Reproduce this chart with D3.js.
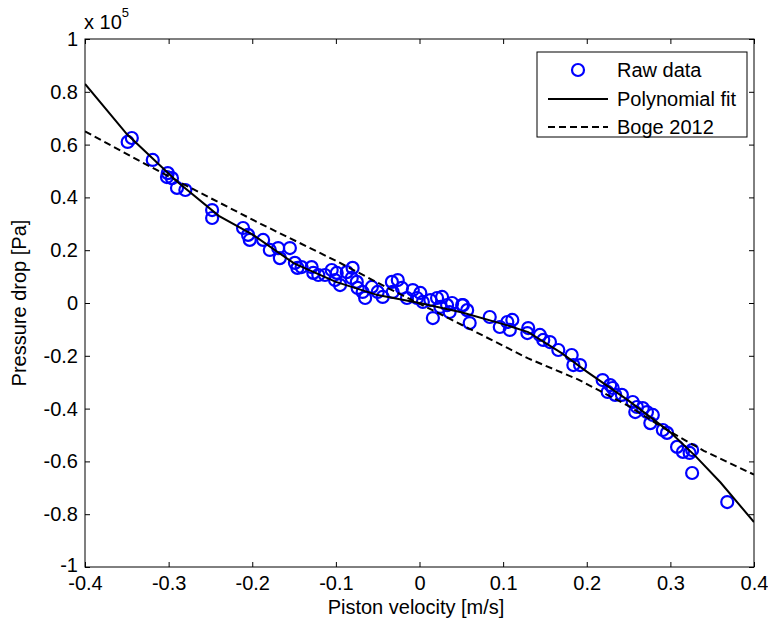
<!DOCTYPE html>
<html>
<head>
<meta charset="utf-8">
<script src="https://cdn.jsdelivr.net/npm/d3@7"></script>
<style>
  html, body { margin: 0; padding: 0; background: #fff; }
  svg { display: block; font-family: "Liberation Sans", Arial, sans-serif; }
</style>
</head>
<body>
<svg id="chart" width="768" height="625"></svg>
<script>
// ---- data (pressure in units of 1e5 Pa) ----
const rawVelocity = [-0.349,-0.344,-0.319,-0.302,-0.301,-0.296,-0.290,-0.280,-0.248,-0.248,
  -0.211,-0.205,-0.203,-0.187,-0.179,-0.169,-0.167,-0.155,-0.149,-0.146,
  -0.141,-0.129,-0.127,-0.121,-0.113,-0.105,-0.099,-0.101,-0.095,-0.087,
  -0.080,-0.081,-0.075,-0.074,-0.068,-0.065,-0.057,-0.050,-0.044,-0.033,
  -0.026,-0.032,-0.021,-0.015,-0.008,0.001,-0.003,0.004,0.013,0.021,
  0.016,0.025,0.033,0.036,0.052,0.057,0.060,0.027,0.039,0.051,
  0.084,0.096,0.105,0.111,0.108,0.130,0.129,0.144,0.148,0.156,
  0.166,0.182,0.184,0.192,0.219,0.228,0.231,0.225,0.234,0.242,
  0.255,0.260,0.258,0.267,0.272,0.279,0.276,0.291,0.296,0.308,
  0.315,0.323,0.326,0.326,0.368];
const rawPressure = [0.610,0.625,0.542,0.477,0.492,0.473,0.436,0.428,0.352,0.322,
  0.284,0.258,0.239,0.239,0.201,0.208,0.170,0.208,0.152,0.133,
  0.136,0.136,0.114,0.106,0.106,0.125,0.114,0.087,0.068,0.117,
  0.133,0.095,0.080,0.057,0.042,0.019,0.061,0.042,0.023,0.080,
  0.087,0.042,0.057,0.019,0.049,0.038,0.019,0.004,0.011,0.019,
  -0.057,-0.015,-0.008,-0.034,-0.008,-0.027,-0.076,0.023,0.000,-0.008,
  -0.053,-0.091,-0.072,-0.064,-0.102,-0.095,-0.114,-0.121,-0.140,-0.148,
  -0.178,-0.197,-0.235,-0.235,-0.292,-0.311,-0.322,-0.337,-0.348,-0.348,
  -0.375,-0.394,-0.413,-0.398,-0.413,-0.424,-0.455,-0.481,-0.492,-0.545,
  -0.564,-0.568,-0.557,-0.644,-0.754];

const fitVelocity = [-0.40,-0.35,-0.32,-0.29,-0.24,-0.20,-0.15,-0.10,-0.05,0.00,
  0.05,0.10,0.13,0.17,0.20,0.25,0.30,0.33,0.36,0.40];
const fitPressure = [0.83,0.64,0.55,0.46,0.33,0.26,0.15,0.08,0.03,0.00,
  -0.035,-0.08,-0.11,-0.19,-0.26,-0.37,-0.49,-0.58,-0.68,-0.83];

const bogeVelocity = [-0.40,-0.33,-0.27,-0.19,-0.10,-0.04,0.03,0.13,0.19,0.25,0.29,0.34,0.40];
const bogePressure = [0.65,0.53,0.43,0.30,0.16,0.06,-0.05,-0.21,-0.29,-0.39,-0.47,-0.56,-0.65];

const xTicks = [-0.4,-0.3,-0.2,-0.1,0,0.1,0.2,0.3,0.4];
const yTicks = [-1,-0.8,-0.6,-0.4,-0.2,0,0.2,0.4,0.6,0.8,1];
const seriesNames = ["Raw data","Polynomial fit","Boge 2012"];

// ---- layout ----
const L = 85, R = 754, T = 39, B = 567;
const FS = 20;
const svg = d3.select("#chart");
const x = d3.scaleLinear().domain([-0.4, 0.4]).range([L, R]);
const y = d3.scaleLinear().domain([-1, 1]).range([B, T]);
const fmt = d => (d === 0 ? "0" : String(d));

// axes with inward ticks on all sides
const tickLen = 5;
svg.append("g").attr("transform", `translate(0,${B})`)
  .call(d3.axisBottom(x).tickValues(xTicks).tickFormat(fmt).tickSizeInner(-tickLen).tickSizeOuter(0).tickPadding(9))
  .call(g => g.select(".domain").remove());
svg.append("g").attr("transform", `translate(0,${T})`)
  .call(d3.axisTop(x).tickValues(xTicks).tickFormat("").tickSizeInner(-tickLen).tickSizeOuter(0))
  .call(g => g.select(".domain").remove());
svg.append("g").attr("transform", `translate(${L},0)`)
  .call(d3.axisLeft(y).tickValues(yTicks).tickFormat(fmt).tickSizeInner(-tickLen).tickSizeOuter(0).tickPadding(7))
  .call(g => g.select(".domain").remove());
svg.append("g").attr("transform", `translate(${R},0)`)
  .call(d3.axisRight(y).tickValues(yTicks).tickFormat("").tickSizeInner(-tickLen).tickSizeOuter(0))
  .call(g => g.select(".domain").remove());
svg.selectAll(".tick line").attr("stroke", "#000").attr("stroke-width", 1);
svg.selectAll(".tick text").attr("font-size", FS).attr("fill", "#000")
  .attr("font-family", "'Liberation Sans', Arial, sans-serif");
// nudge the bottom-most y label up slightly so it clears the x label below it
svg.selectAll("g.tick text").filter(d => d === -1).attr("dy", "0.2em");

// data clip
svg.append("defs").append("clipPath").attr("id", "clip")
  .append("rect").attr("x", L).attr("y", T).attr("width", R - L).attr("height", B - T);
const plot = svg.append("g").attr("clip-path", "url(#clip)");

const line = d3.line().x(d => x(d[0])).y(d => y(d[1]));
const fitData = fitVelocity.map((v, i) => [v, fitPressure[i]]);
const bogeData = bogeVelocity.map((v, i) => [v, bogePressure[i]]);

plot.selectAll("circle.raw").data(rawVelocity.map((v, i) => [v, rawPressure[i]]))
  .enter().append("circle").attr("class", "raw")
  .attr("cx", d => x(d[0])).attr("cy", d => y(d[1])).attr("r", 6)
  .attr("fill", "none").attr("stroke", "#0000ff").attr("stroke-width", 2.2);

plot.append("path").datum(fitData).attr("d", line)
  .attr("fill", "none").attr("stroke", "#000").attr("stroke-width", 2);
plot.append("path").datum(bogeData).attr("d", line)
  .attr("fill", "none").attr("stroke", "#000").attr("stroke-width", 2)
  .attr("stroke-dasharray", "7,4");

// frame
svg.append("rect").attr("x", L).attr("y", T).attr("width", R - L).attr("height", B - T)
  .attr("fill", "none").attr("stroke", "#000").attr("stroke-width", 1);

// exponent label
const ex = svg.append("text").attr("x", L - 1).attr("y", 29).attr("font-size", FS).attr("fill", "#000");
ex.append("tspan").text("x 10");
ex.append("tspan").attr("dy", -12).attr("font-size", 13).text("5");

// axis titles
svg.append("text").attr("x", 416).attr("y", 614).attr("text-anchor", "middle")
  .attr("font-size", FS).attr("fill", "#000").text("Piston velocity [m/s]");
svg.append("text").attr("transform", `translate(26,${(T + B) / 2}) rotate(-90)`)
  .attr("text-anchor", "middle").attr("font-size", FS).attr("fill", "#000").text("Pressure drop [Pa]");

// legend
const lg = svg.append("g");
lg.append("rect").attr("x", 537).attr("y", 52).attr("width", 210).attr("height", 85)
  .attr("fill", "#fff").attr("stroke", "#000").attr("stroke-width", 1);
const rows = [70, 99, 127];
rows.forEach((ry, i) => {
  if (i === 0) {
    lg.append("circle").attr("cx", 578).attr("cy", ry).attr("r", 6)
      .attr("fill", "none").attr("stroke", "#0000ff").attr("stroke-width", 2.2);
  } else {
    lg.append("line").attr("x1", 548).attr("x2", 608).attr("y1", ry).attr("y2", ry)
      .attr("stroke", "#000").attr("stroke-width", 2)
      .attr("stroke-dasharray", i === 2 ? "7,4" : null);
  }
  lg.append("text").attr("x", 617).attr("y", ry + 7).attr("font-size", FS).attr("fill", "#000")
    .text(seriesNames[i]);
});
</script>
</body>
</html>
